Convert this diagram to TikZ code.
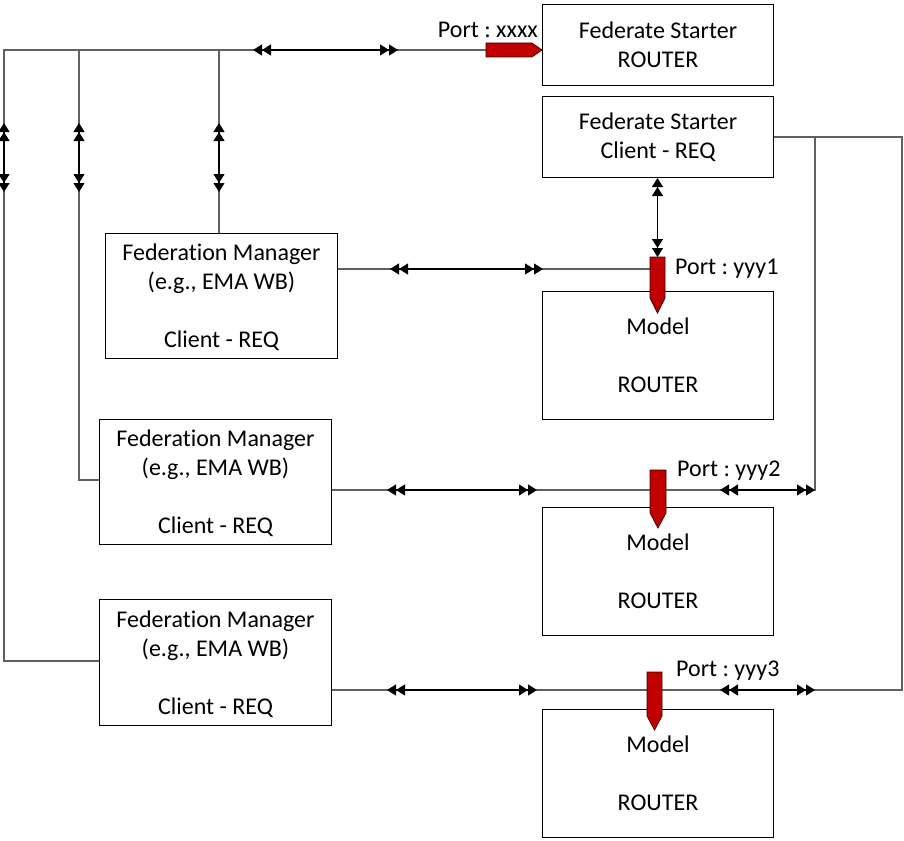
\documentclass[tikz,border=0pt]{standalone}
\usepackage{fontspec}
\setmainfont{Carlito}[Ligatures={NoCommon}]
\usetikzlibrary{arrows.meta}
\frenchspacing
\definecolor{portred}{HTML}{C00000}
\definecolor{linegray}{HTML}{606060}
\tikzset{
  box/.style={draw=black, line width=1pt, fill=white, anchor=north west, align=center,
    inner sep=0pt, font=\fontsize{24}{29}\selectfont},
  fmbox/.style={box, text depth=0pt},
  wire/.style={draw=linegray, line width=1.1pt},
  dbl/.style={draw=black, line width=1.1pt,
    arrows={Triangle[length=9pt,width=11pt]Triangle[length=9pt,width=11pt]-Triangle[length=9pt,width=11pt]Triangle[length=9pt,width=11pt]}},
  port/.style={fill=portred, draw=black!70!portred, line width=0.7pt},
  plabel/.style={font=\fontsize{24}{28}\selectfont, inner sep=0pt}
}
\begin{document}
\begin{tikzpicture}[x=1pt,y=-1pt]
\useasboundingbox (0,0) rectangle (904,840);
% boxes
\node[box, minimum width=231pt, minimum height=81pt] (fsr) at (542,4) {Federate Starter\\ROUTER};
\node[box, minimum width=231pt, minimum height=81pt] (fsc) at (542,96) {Federate Starter\\Client - REQ};
\node[fmbox, minimum width=232pt, minimum height=125pt] (fm1) at (105,233) {Federation Manager\\(e.g., EMA WB)\\[29pt]Client - REQ};
\node[box, minimum width=231pt, minimum height=128pt] (m1) at (542,291) {Model\\[29pt]ROUTER};
\node[fmbox, minimum width=232pt, minimum height=125pt] (fm2) at (99,419) {Federation Manager\\(e.g., EMA WB)\\[29pt]Client - REQ};
\node[box, minimum width=231pt, minimum height=128pt] (m2) at (542,507) {Model\\[29pt]ROUTER};
\node[fmbox, minimum width=232pt, minimum height=126pt] (fm3) at (99,599) {Federation Manager\\(e.g., EMA WB)\\[29pt]Client - REQ};
\node[box, minimum width=231pt, minimum height=128pt] (m3) at (542,709) {Model\\[29pt]ROUTER};

% port coordinates
\coordinate (px) at (486,50);
\coordinate (p1) at (657.5,257);
\coordinate (p2) at (658,470);
\coordinate (p3) at (654.5,672);

% wires
\draw[wire] (fm3.west |- 0,661) -- (4,661) -- (4,50) -- (px);
\draw[wire] (fm2.west |- 0,480) -- (79,480) -- (79,50);
\draw[wire] (fm1.north -| 219,0) -- (219,50);
\draw[wire] (fm1.east |- 0,269) -- (p1 |- 0,269);
\draw[wire] (fm2.east |- 0,490) -- (815,490) -- (815,137) -- (fsc.east |- 0,137);
\draw[wire] (fm3.east |- 0,690) -- (902,690) -- (902,137) -- (815,137);

% double arrows
\draw[dbl] (253,50) -- (398,50);
\draw[dbl] (4,123) -- (4,192);
\draw[dbl] (79,123) -- (79,192);
\draw[dbl] (219,123) -- (219,192);
\draw[dbl] (fsc.south -| p1) -- (p1);
\draw[dbl] (390,269) -- (543,269);
\draw[dbl] (387,490) -- (537,490);
\draw[dbl] (720,490) -- (815,490);
\draw[dbl] (387,690) -- (537,690);
\draw[dbl] (720,690) -- (815,690);

% ports
\draw[port] (px) -- ++(0,-7) -- (532,43) -- (fsr.west |- px) -- (532,57) -- (486,57) -- cycle;
\draw[port] (p1) ++(-7.5,0) -- ++(15,0) -- ++(0,41) -- ++(-7.5,15) -- ++(-7.5,-15) -- cycle;
\draw[port] (p2) ++(-8,0) -- ++(16,0) -- ++(0,43) -- ++(-8,15) -- ++(-8,-15) -- cycle;
\draw[port] (p3) ++(-7.5,0) -- ++(15,0) -- ++(0,44) -- ++(-7.5,14) -- ++(-7.5,-14) -- cycle;

% labels
\node[plabel, anchor=east] (lx) at (538,30) {Port : xxxx};
\node[plabel, anchor=west] (l1) at (675,269) {Port : yyy1};
\node[plabel, anchor=west] (l2) at (677,471) {Port : yyy2};
\node[plabel, anchor=west] (l3) at (676,671) {Port : yyy3};
\end{tikzpicture}
\end{document}
